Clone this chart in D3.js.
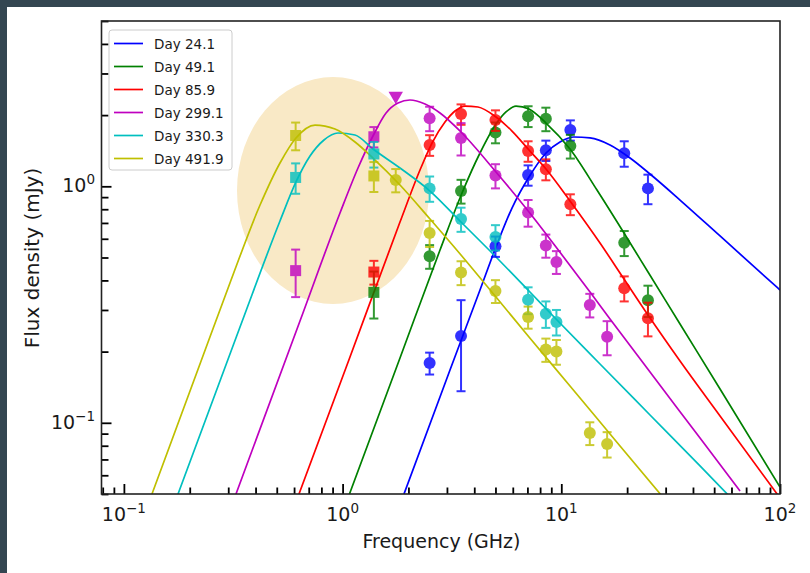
<!DOCTYPE html>
<html><head><meta charset="utf-8">
<script src="https://cdn.jsdelivr.net/npm/d3@7"></script>
<style>html,body{margin:0;padding:0;background:#fff;} svg{display:block;font-family:"DejaVu Sans",sans-serif;}</style>
</head><body><svg id="c" width="810" height="573"></svg>
<script>
// ---------------- DATA ----------------
const seriesNames  = ["Day 24.1", "Day 49.1", "Day 85.9", "Day 299.1", "Day 330.3", "Day 491.9"];
const seriesColors = ["#0000ff", "#008000", "#ff0000", "#bf00bf", "#00bfbf", "#bfbf00"];
const gmrtBands = [0.61, 1.39];   // plotted as squares

// observed points (GHz, mJy, 1-sigma error)
const d24Freq = [2.5, 3.48, 5.0, 7.05, 8.5, 11.0, 19.4, 24.9];
const d24Flux = [0.179, 0.233, 0.558, 1.116, 1.42, 1.73, 1.38, 0.98];
const d24Err  = [0.019, 0.097, 0.055, 0.11, 0.14, 0.17, 0.17, 0.14];

const d49Freq = [1.39, 2.5, 3.48, 5.0, 7.05, 8.5, 11.0, 19.4, 24.9];
const d49Flux = [0.356, 0.506, 0.955, 1.69, 1.98, 1.93, 1.48, 0.577, 0.33];
const d49Err  = [0.08, 0.058, 0.11, 0.17, 0.2, 0.22, 0.17, 0.07, 0.05];

const d86Freq = [1.39, 2.5, 3.48, 5.0, 7.05, 8.5, 11.0, 19.4, 24.9];
const d86Flux = [0.434, 1.495, 2.02, 1.905, 1.41, 1.18, 0.84, 0.371, 0.277];
const d86Err  = [0.05, 0.15, 0.2, 0.19, 0.14, 0.12, 0.085, 0.045, 0.045];

const d299Freq = [0.61, 1.39, 2.5, 3.48, 5.0, 7.05, 8.5, 9.5, 13.5, 16.2];
const d299Flux = [0.44, 1.62, 1.94, 1.60, 1.11, 0.775, 0.562, 0.479, 0.315, 0.231];
const d299Err  = [0.1, 0.16, 0.23, 0.25, 0.13, 0.1, 0.063, 0.053, 0.036, 0.038];
const d299LimitFreq = [1.75];
const d299LimitFlux = [2.41];

const d330Freq = [0.61, 1.39, 2.5, 3.48, 5.0, 7.05, 8.5, 9.5];
const d330Flux = [1.09, 1.37, 0.98, 0.727, 0.61, 0.331, 0.289, 0.267];
const d330Err  = [0.16, 0.17, 0.12, 0.085, 0.075, 0.043, 0.037, 0.033];

const d492Freq = [0.61, 1.39, 1.75, 2.5, 3.48, 5.0, 7.05, 8.5, 9.5, 13.5, 16.2];
const d492Flux = [1.64, 1.106, 1.063, 0.634, 0.432, 0.361, 0.28, 0.204, 0.2, 0.0905, 0.0813];
const d492Err  = [0.22, 0.16, 0.12, 0.08, 0.05, 0.04, 0.03, 0.023, 0.024, 0.01, 0.01];

// fitted model curves (GHz, mJy)
const fit24Freq = [1.909, 3.098, 4.249, 5.028, 5.951, 7.117, 8.513, 9.865, 11.43, 13.53, 16.70, 20.62, 25.45, 34.90, 53.19, 100];
const fit24Flux = [0.050, 0.1673, 0.3643, 0.5538, 0.8094, 1.095, 1.383, 1.540, 1.616, 1.601, 1.495, 1.317, 1.127, 0.875, 0.6165, 0.3643];

const fit49Freq = [1.075, 1.830, 2.789, 3.516, 4.249, 5.028, 5.586, 6.208, 7.117, 8.513, 10.96, 14.56, 19.35, 24.92, 34.90, 53.19, 100];
const fit49Flux = [0.050, 0.1879, 0.5379, 0.937, 1.383, 1.834, 2.062, 2.185, 2.122, 1.852, 1.438, 0.9646, 0.6347, 0.4342, 0.2617, 0.1390, 0.0535];

const fit86Freq = [0.6318, 1.081, 1.830, 2.259, 2.563, 2.939, 3.266, 3.628, 4.160, 5.028, 5.951, 7.117, 8.513, 10.96, 15.03, 19.35, 24.92, 34.90, 53.19, 100];
const fit86Flux = [0.050, 0.1898, 0.7064, 1.172, 1.524, 1.870, 2.082, 2.185, 2.164, 1.963, 1.713, 1.424, 1.183, 0.867, 0.5757, 0.4055, 0.2856, 0.1825, 0.1069, 0.0481];

const fit299Freq = [0.3255, 0.6385, 0.973, 1.176, 1.377, 1.580, 1.792, 2.033, 2.382, 2.789, 3.478, 5.028, 7.117, 9.459, 13.53, 16.70, 25.45, 43.08, 65.64];
const fit299Flux = [0.050, 0.2694, 0.7712, 1.195, 1.632, 2.042, 2.250, 2.317, 2.228, 2.042, 1.697, 1.150, 0.7787, 0.5538, 0.3573, 0.2747, 0.1640, 0.0862, 0.0515];

const fit330Freq = [0.1768, 0.3396, 0.5173, 0.6121, 0.7096, 0.8222, 0.9527, 1.140, 1.377, 1.830, 2.510, 3.478, 5.028, 7.117, 9.459, 15.03, 25.45, 43.08, 59.08];
const fit330Flux = [0.050, 0.2541, 0.7133, 1.043, 1.343, 1.570, 1.680, 1.648, 1.438, 1.195, 0.955, 0.7064, 0.5025, 0.3608, 0.2747, 0.1773, 0.1079, 0.0657, 0.0486];

const fit492Freq = [0.1344, 0.2228, 0.3055, 0.4193, 0.5173, 0.6121, 0.7479, 0.9231, 1.140, 1.377, 1.830, 2.510, 3.478, 5.028, 7.117, 10.96, 18.56, 28.87];
const fit492Flux = [0.050, 0.1773, 0.3901, 0.8334, 1.255, 1.601, 1.816, 1.747, 1.540, 1.317, 1.013, 0.7273, 0.5124, 0.3402, 0.2306, 0.1431, 0.0798, 0.0490];

// highlighted region (centre in data units)
const highlightCentre = [0.904, 0.96];

// axis tick values
const xMajor = [0.1, 1, 10, 100];
const xMajorExp = ["\u22121", "0", "1", "2"];
const yMajor = [0.1, 1];
const yMajorExp = ["\u22121", "0"];
const xMinor = [0.08, 0.09, 0.2, 0.3, 0.4, 0.5, 0.6, 0.7, 0.8, 0.9, 2, 3, 4, 5, 6, 7, 8, 9, 20, 30, 40, 50, 60, 70, 80, 90];
const yMinor = [0.05, 0.06, 0.07, 0.08, 0.09, 0.2, 0.3, 0.4, 0.5, 0.6, 0.7, 0.8, 0.9, 2, 3, 4, 5];

const xLabel = "Frequency (GHz)";
const yLabel = "Flux density (mJy)";

// ---------------- BUILD ----------------
const W = 810, H = 573;
const L = 101.5, R = 780, T = 21, B = 494;
const svg = d3.select("#c");
svg.append("rect").attr("width", W).attr("height", H).attr("fill", "#ffffff");
svg.append("rect").attr("x", 0).attr("y", 0).attr("width", W).attr("height", 7).attr("fill", "#344651");
svg.append("rect").attr("x", 0).attr("y", 0).attr("width", 7).attr("height", H).attr("fill", "#344651");

const x = d3.scaleLog().domain([0.079, 100]).range([L, R]);
const y = d3.scaleLog().domain([0.05, 5]).range([B, T]);

svg.append("defs").append("clipPath").attr("id", "clip")
  .append("rect").attr("x", L).attr("y", T).attr("width", R - L).attr("height", B - T);

const plot = svg.append("g").attr("clip-path", "url(#clip)");

plot.append("ellipse")
  .attr("cx", x(highlightCentre[0])).attr("cy", y(highlightCentre[1]))
  .attr("rx", 96).attr("ry", 113.5)
  .attr("fill", "#f9e9c6");

const series = [
  {fx: fit24Freq, fy: fit24Flux, px: d24Freq, py: d24Flux, pe: d24Err},
  {fx: fit49Freq, fy: fit49Flux, px: d49Freq, py: d49Flux, pe: d49Err},
  {fx: fit86Freq, fy: fit86Flux, px: d86Freq, py: d86Flux, pe: d86Err},
  {fx: fit299Freq, fy: fit299Flux, px: d299Freq, py: d299Flux, pe: d299Err},
  {fx: fit330Freq, fy: fit330Flux, px: d330Freq, py: d330Flux, pe: d330Err},
  {fx: fit492Freq, fy: fit492Flux, px: d492Freq, py: d492Flux, pe: d492Err}
];

const line = d3.line().x(d => x(d[0])).y(d => y(d[1])).curve(d3.curveMonotoneX);

series.forEach((s, i) => {
  plot.append("path").datum(d3.zip(s.fx, s.fy))
    .attr("d", line).attr("fill", "none")
    .attr("stroke", seriesColors[i]).attr("stroke-width", 1.7);
});

series.forEach((s, i) => {
  const c = seriesColors[i];
  const g = plot.append("g").attr("opacity", 0.8);
  d3.zip(s.px, s.py, s.pe).forEach(([f, v, e]) => {
    const cx = x(f), y0 = y(v + e), y1 = y(Math.max(v - e, 1e-3));
    g.append("line").attr("x1", cx).attr("x2", cx).attr("y1", y0).attr("y2", y1)
      .attr("stroke", c).attr("stroke-width", 2);
    [y0, y1].forEach(yy => g.append("line").attr("x1", cx - 4.5).attr("x2", cx + 4.5)
      .attr("y1", yy).attr("y2", yy).attr("stroke", c).attr("stroke-width", 2));
    if (gmrtBands.includes(f)) {
      g.append("rect").attr("x", cx - 5.5).attr("y", y(v) - 5.5).attr("width", 11).attr("height", 11).attr("fill", c);
    } else {
      g.append("circle").attr("cx", cx).attr("cy", y(v)).attr("r", 6).attr("fill", c);
    }
  });
});

// upper limit (down triangle)
d3.zip(d299LimitFreq, d299LimitFlux).forEach(([f, v]) => {
  const cx = x(f), cy = y(v);
  plot.append("path")
    .attr("d", d3.symbol().type(d3.symbolTriangle).size(90)())
    .attr("transform", `translate(${cx},${cy}) rotate(180)`)
    .attr("fill", seriesColors[3]).attr("opacity", 0.85);
});

// axes ticks (inward)
const axG = svg.append("g");
const xAxMaj = d3.axisBottom(x).tickValues(xMajor).tickSize(-10).tickFormat("");
const xAxMin = d3.axisBottom(x).tickValues(xMinor).tickSize(-6.5).tickFormat("");
const yAxMaj = d3.axisLeft(y).tickValues(yMajor).tickSize(-10).tickFormat("");
const yAxMin = d3.axisLeft(y).tickValues(yMinor).tickSize(-7).tickFormat("");
[[xAxMaj, `translate(0,${B})`], [xAxMin, `translate(0,${B})`], [yAxMaj, `translate(${L},0)`], [yAxMin, `translate(${L},0)`]]
  .forEach(([ax, tr]) => {
    const gg = axG.append("g").attr("transform", tr).call(ax);
    gg.select(".domain").remove();
    gg.selectAll(".tick line").attr("stroke", "#000").attr("stroke-width", 1.8);
  });

// frame
svg.append("rect").attr("x", L).attr("y", T).attr("width", R - L).attr("height", B - T)
  .attr("fill", "none").attr("stroke", "#222").attr("stroke-width", 1.6);

// tick labels
xMajor.forEach((v, i) => {
  const t = svg.append("text").attr("x", x(v)).attr("y", 521)
    .attr("text-anchor", "middle").attr("font-size", 19).attr("fill", "#1a1a1a");
  t.append("tspan").text("10");
  t.append("tspan").attr("dy", -8).attr("font-size", 13.5).text(xMajorExp[i]);
});
yMajor.forEach((v, i) => {
  const t = svg.append("text").attr("x", 95).attr("y", y(v) + 6)
    .attr("text-anchor", "end").attr("font-size", 19).attr("fill", "#1a1a1a");
  t.append("tspan").text("10");
  t.append("tspan").attr("dy", -8).attr("font-size", 13.5).text(yMajorExp[i]);
});

svg.append("text").attr("x", 441.5).attr("y", 548).attr("text-anchor", "middle")
  .attr("font-size", 19).attr("fill", "#1a1a1a").text(xLabel);
svg.append("text").attr("transform", "translate(39,258) rotate(-90)").attr("text-anchor", "middle")
  .attr("font-size", 20).attr("fill", "#1a1a1a").text(yLabel);

// legend
const lg = svg.append("g");
lg.append("rect").attr("x", 109).attr("y", 30).attr("width", 123).attr("height", 140).attr("rx", 3)
  .attr("fill", "#fff").attr("fill-opacity", 0.85).attr("stroke", "#cccccc").attr("stroke-width", 1);
seriesNames.forEach((n, i) => {
  const yy = 43.5 + i * 23;
  lg.append("line").attr("x1", 114).attr("x2", 143).attr("y1", yy).attr("y2", yy)
    .attr("stroke", seriesColors[i]).attr("stroke-width", 1.7);
  lg.append("text").attr("x", 154).attr("y", yy + 5).attr("font-size", 13.5).attr("fill", "#1a1a1a").text(n);
});
</script></body></html>
